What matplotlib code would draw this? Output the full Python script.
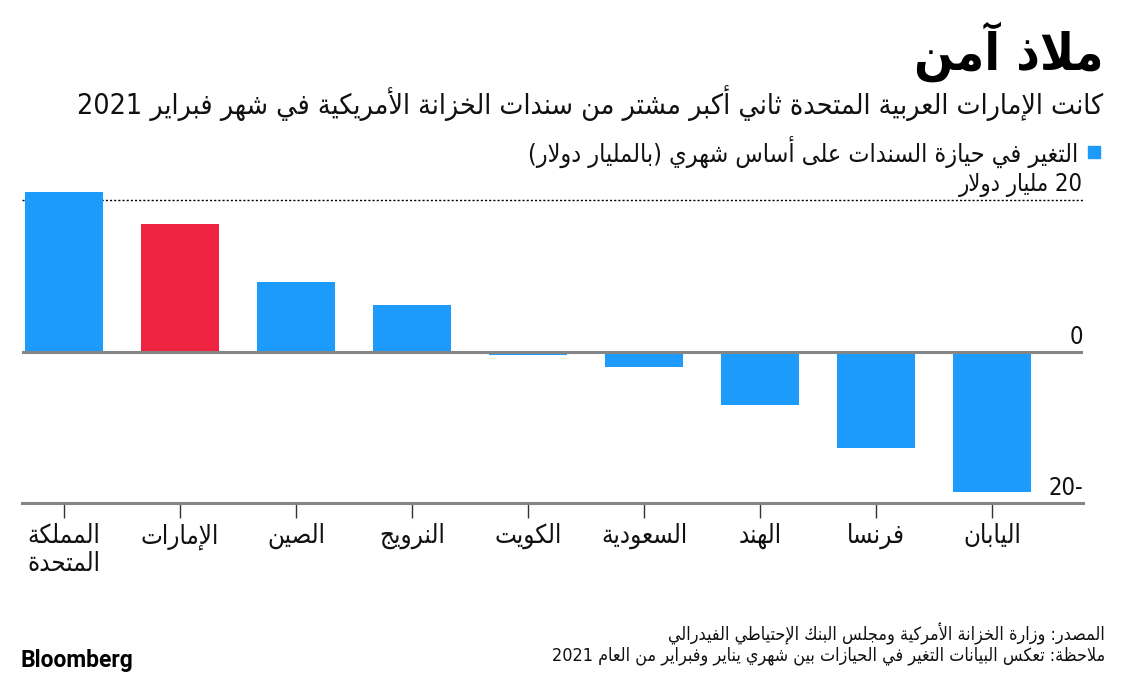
import re

import matplotlib

matplotlib.use("Agg")
import matplotlib.pyplot as plt
import numpy as np
from matplotlib.patches import Rectangle

# ---- data ----
countries = [
    "المملكة\nالمتحدة",
    "الإمارات",
    "الصين",
    "النرويج",
    "الكويت",
    "السعودية",
    "الهند",
    "فرنسا",
    "اليابان",
]
changes = [21.0, 16.8, 9.2, 6.1, -0.4, -2.1, -7.1, -12.7, -18.5]
highlight = "الإمارات"
y_ticks = [-20, 0, 20]
y_tick_labels = ["-20", "0", "20 مليار دولار"]

title = "ملاذ آمن"
subtitle = "كانت الإمارات العربية المتحدة ثاني أكبر مشتر من سندات الخزانة الأمريكية في شهر فبراير 2021"
legend_label = "التغير في حيازة السندات على أساس شهري (بالمليار دولار)"
source = "المصدر: وزارة الخزانة الأمركية ومجلس البنك الإحتياطي الفيدرالي"
note = "ملاحظة: تعكس البيانات التغير في الحيازات بين شهري يناير وفبراير من العام 2021"

BLUE = "#1C9BFD"
RED = "#EE233F"
GREY = "#858585"

# ---- minimal Arabic shaping + RTL ordering (matplotlib does neither) ----
# letter -> (first presentation form code point, number of forms)
_FORMS = {
    "\u0621": (0xFE80, 1),
    "\u0622": (0xFE81, 2), "\u0623": (0xFE83, 2), "\u0624": (0xFE85, 2),
    "\u0625": (0xFE87, 2), "\u0626": (0xFE89, 4), "\u0627": (0xFE8D, 2),
    "\u0628": (0xFE8F, 4), "\u0629": (0xFE93, 2), "\u062A": (0xFE95, 4),
    "\u062B": (0xFE99, 4), "\u062C": (0xFE9D, 4), "\u062D": (0xFEA1, 4),
    "\u062E": (0xFEA5, 4), "\u062F": (0xFEA9, 2), "\u0630": (0xFEAB, 2),
    "\u0631": (0xFEAD, 2), "\u0632": (0xFEAF, 2), "\u0633": (0xFEB1, 4),
    "\u0634": (0xFEB5, 4), "\u0635": (0xFEB9, 4), "\u0636": (0xFEBD, 4),
    "\u0637": (0xFEC1, 4), "\u0638": (0xFEC5, 4), "\u0639": (0xFEC9, 4),
    "\u063A": (0xFECD, 4), "\u0641": (0xFED1, 4), "\u0642": (0xFED5, 4),
    "\u0643": (0xFED9, 4), "\u0644": (0xFEDD, 4), "\u0645": (0xFEE1, 4),
    "\u0646": (0xFEE5, 4), "\u0647": (0xFEE9, 4), "\u0648": (0xFEED, 2),
    "\u0649": (0xFEEF, 2), "\u064A": (0xFEF1, 4),
}
_LAM_ALEF = {"\u0622": 0xFEF5, "\u0623": 0xFEF7, "\u0625": 0xFEF9, "\u0627": 0xFEFB}
_MIRROR = str.maketrans("()", ")(")


def _shape(line):
    items = []
    i = 0
    while i < len(line):
        c = line[i]
        if c == "\u0644" and i + 1 < len(line) and line[i + 1] in _LAM_ALEF:
            items.append((_LAM_ALEF[line[i + 1]], 2))
            i += 2
            continue
        items.append(_FORMS.get(c, c))
        i += 1
    out = []
    for k, it in enumerate(items):
        if isinstance(it, str):
            out.append(it)
            continue
        start, n = it
        prev = items[k - 1] if k > 0 else None
        nxt = items[k + 1] if k + 1 < len(items) else None
        jp = n > 1 and isinstance(prev, tuple) and prev[1] == 4
        jn = n == 4 and isinstance(nxt, tuple) and nxt[1] > 1
        if jp and jn:
            form = 3
        elif jp:
            form = 1
        elif jn:
            form = 2
        else:
            form = 0
        out.append(chr(start + form))
    return "".join(out)


def ar(text):
    lines = []
    for line in text.split("\n"):
        runs = re.findall(r"[0-9]+|[^0-9]+", _shape(line))
        vis = [r if r[0].isdigit() else r[::-1].translate(_MIRROR) for r in reversed(runs)]
        lines.append("".join(vis))
    return "\n".join(lines)


plt.rcParams["font.family"] = ["DejaVu Sans"]
plt.rcParams["font.stretch"] = "condensed"

W, H = 1131, 675
fig = plt.figure(figsize=(W / 100, H / 100), dpi=100)
fig.patch.set_facecolor("white")

ax = fig.add_axes([22 / W, 1 - 503 / H, 1061 / W, 323 / H])
x = np.arange(len(countries))
colors = [RED if c == highlight else BLUE for c in countries]
ax.bar(x, changes, width=0.665, color=colors, zorder=2)
ax.set_xlim(-0.362, 8.784)
ax.set_ylim(-20, -20 + 323 / 7.575)

ax.axhline(0, color=GREY, lw=2.2, zorder=3)
ax.axhline(-20, color=GREY, lw=2.2, zorder=3, clip_on=False)
ax.axhline(20, color="black", lw=1, ls=(0, (1.5, 1.5)), zorder=1)

for v, lab in zip(y_ticks, y_tick_labels):
    ax.text(8.784, v + 0.35, ar(lab), ha="right", va="bottom", fontsize=17, color="#111111")

for s in ax.spines.values():
    s.set_visible(False)
ax.set_yticks([])
ax.set_xticks(x, [ar(c) for c in countries])
ax.tick_params(axis="x", length=10.5, width=1, color="#333333", pad=4,
               labelsize=18.5, labelcolor="#111111")
for lab in ax.get_xticklabels():
    lab.set_linespacing(1.1)

fig.text(1103 / W, 1 - 52 / H, ar(title), ha="right", va="center",
         fontsize=37, fontweight="bold", color="black")
fig.text(1103 / W, 1 - 103 / H, ar(subtitle), ha="right", va="center",
         fontsize=20.4, color="#111111")
fig.patches.append(Rectangle((1088 / W, 1 - 158 / H), 12 / W, 12 / H,
                             color=BLUE, transform=fig.transFigure))
fig.text(1078 / W, 1 - 152 / H, ar(legend_label), ha="right", va="center",
         fontsize=18, color="#111111")
fig.text(1105 / W, 1 - 634 / H, ar(source), ha="right", va="center",
         fontsize=12.9, color="#111111")
fig.text(1105 / W, 1 - 656 / H, ar(note), ha="right", va="center",
         fontsize=12.9, color="#111111")
fig.text(20 / W, 1 - 660 / H, "Bloomberg", ha="left", va="center",
         fontsize=16.5, fontweight="bold", family="Roboto", color="black")

fig.savefig("out.png", dpi=100)
